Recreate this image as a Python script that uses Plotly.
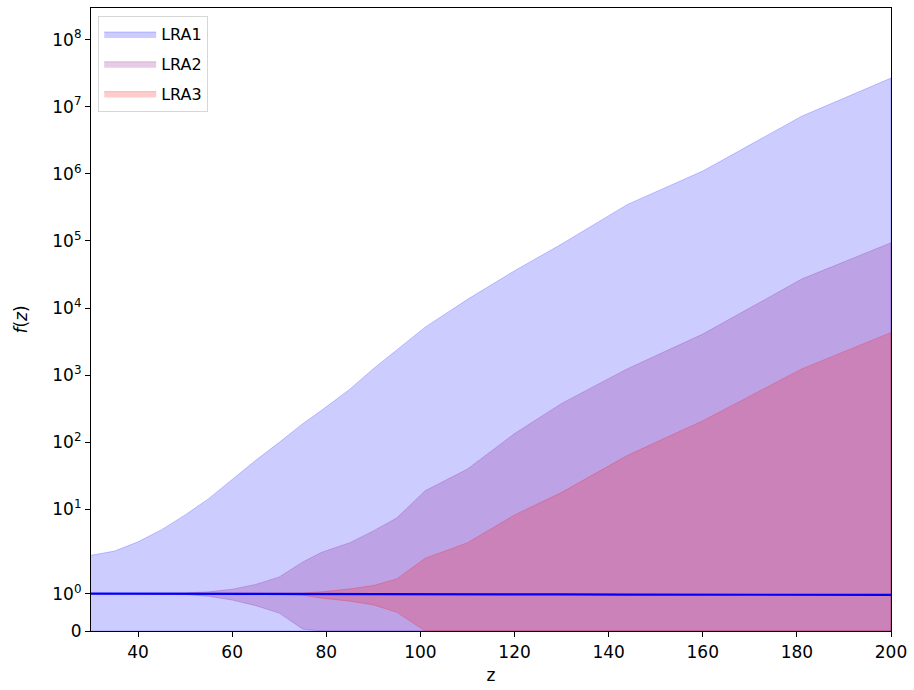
import numpy as np
import plotly.graph_objects as go

# Redshift grid shared by all bands
z = [30, 35, 40, 45, 50, 55, 60, 65, 70, 75, 79, 85, 90, 95, 101, 110, 120, 130, 144, 160, 181, 200]

# LRA1 band (upper / lower)
lra1_hi = [2.08, 2.4, 3.3, 5.0, 8.3, 14.5, 28, 54, 100, 190, 300, 620, 1250, 2400, 5200,
           13500, 36000, 90000, 3.5e5, 1.1e6, 7.2e6, 2.67e7]
lra1_lo = [0] * len(z)

# LRA2 band
lra2_hi = [1.0, 1.0, 1.0, 1.0, 1.02, 1.05, 1.12, 1.25, 1.45, 1.85, 2.3, 3.2, 4.8, 7.5, 19,
           40, 135, 380, 1250, 4100, 2.7e4, 9.4e4]
lra2_lo = [1.0, 1.0, 1.0, 0.99, 0.98, 0.93, 0.83, 0.68, 0.48, 0.05, 0, 0, 0, 0, 0,
           0, 0, 0, 0, 0, 0, 0]

# LRA3 band
lra3_hi = [1.0, 1.0, 1.0, 1.0, 1.0, 1.0, 1.0, 1.0, 1.0, 1.02, 1.05, 1.13, 1.22, 1.4, 1.95,
           3.2, 8.3, 18, 64, 210, 1240, 4340]
lra3_lo = [1.0, 1.0, 1.0, 1.0, 1.0, 1.0, 1.0, 1.0, 0.99, 0.96, 0.88, 0.8, 0.7, 0.5, 0,
           0, 0, 0, 0, 0, 0, 0]

# Fiducial curve
fid = [1.0, 1.0, 1.0, 1.0, 1.0, 1.0, 1.0, 0.995, 0.995, 0.99, 0.99, 0.99, 0.99, 0.985, 0.985,
       0.98, 0.98, 0.98, 0.975, 0.975, 0.97, 0.97]

y_ticks = [0, 1, 1e1, 1e2, 1e3, 1e4, 1e5, 1e6, 1e7, 1e8]
y_tick_text = ["0"] + ["10<sup>%d</sup>" % k for k in range(9)]
x_ticks = [40, 60, 80, 100, 120, 140, 160, 180, 200]

LINTHRESH = 2.0
LINSCALE = 1.0


def symlog(v):
    """Symmetric-log transform (linear below LINTHRESH), in decade units."""
    v = np.asarray(v, dtype=float)
    adj = LINSCALE / (1.0 - 1.0 / 10.0)
    a = np.abs(v)
    lin = a * adj / LINTHRESH
    log = adj + np.log10(np.maximum(a, LINTHRESH) / LINTHRESH)
    return np.sign(v) * np.where(a <= LINTHRESH, lin, log)


FONT = "DejaVu Sans"
fig = go.Figure()

bands = [
    ("LRA1", lra1_lo, lra1_hi, "0,0,255"),
    ("LRA2", lra2_lo, lra2_hi, "128,0,128"),
    ("LRA3", lra3_lo, lra3_hi, "255,0,0"),
]
for i, (name, lo, hi, rgb) in enumerate(bands):
    xs = list(z) + list(z[::-1])
    ys = np.concatenate([symlog(hi), symlog(lo)[::-1]])
    fig.add_trace(go.Scatter(
        x=xs, y=ys, mode="lines", fill="toself", name=name,
        legendgroup=name,
        fillcolor="rgba(%s,0.2)" % rgb,
        line=dict(color="rgba(%s,0.2)" % rgb, width=1),
        hoverinfo="skip",
    ))

fig.add_trace(go.Scatter(
    x=z, y=symlog(fid), mode="lines", showlegend=False,
    line=dict(color="rgb(0,0,255)", width=2.2),
))

fig.update_layout(
    width=914, height=690, autosize=False,
    margin=dict(l=91, r=19, t=7, b=59),
    paper_bgcolor="white", plot_bgcolor="white",
    font=dict(family=FONT, size=17, color="black"),
    showlegend=True,
    legend=dict(
        x=0.009, y=0.987, xanchor="left", yanchor="top",
        bgcolor="rgba(255,255,255,0.8)", bordercolor="#d6d6d6", borderwidth=1,
        font=dict(family=FONT, size=16, color="black"),
        tracegroupgap=6, traceorder="grouped", itemwidth=52,
    ),
)

fig.update_xaxes(
    range=[30, 200], tickvals=x_ticks, ticks="outside", ticklen=5, tickwidth=1,
    tickcolor="black", showline=True, linecolor="black", linewidth=1.2, mirror=True,
    showgrid=False, zeroline=False,
    title=dict(text="z", standoff=8, font=dict(family=FONT, size=17)),
    tickfont=dict(family=FONT, size=17),
)
fig.update_yaxes(
    range=[0, 9.28], tickvals=symlog(y_ticks), ticktext=y_tick_text,
    ticks="outside", ticklen=5, tickwidth=1, tickcolor="black",
    showline=True, linecolor="black", linewidth=1.2, mirror=True,
    showgrid=False, zeroline=False,
    title=dict(text="<i>f</i>(<i>z</i>)", standoff=20, font=dict(family=FONT, size=17)),
    tickfont=dict(family=FONT, size=17),
)

fig.write_html("out.html")
